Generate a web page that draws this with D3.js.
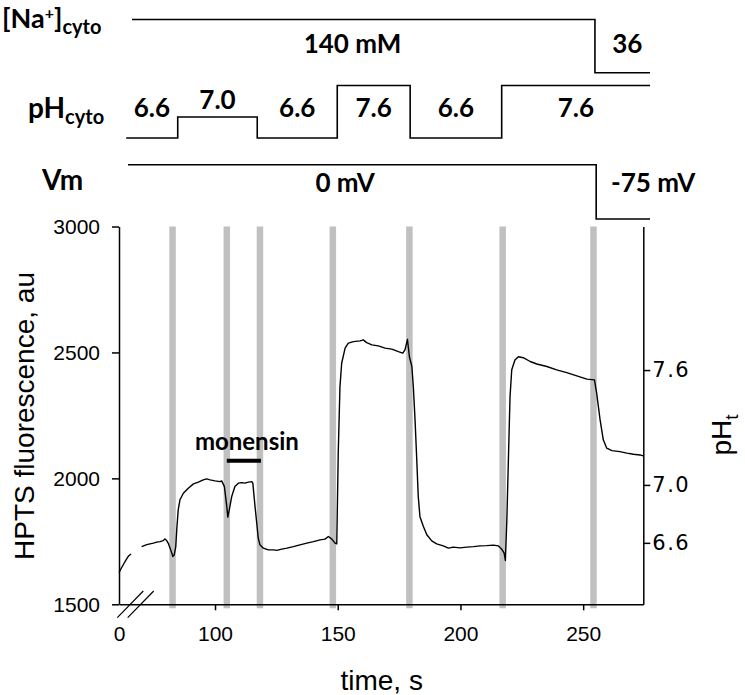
<!DOCTYPE html>
<html><head><meta charset="utf-8">
<script src="https://cdn.jsdelivr.net/npm/d3@7"></script>
<style>body{margin:0;background:#fff} svg{display:block}</style>
</head><body><svg id="c" width="745" height="695"></svg>
<script>
// ---------- data ----------
const earlyTime  = [0, 1, 2, 3, 4, 5];
const earlyFluor = [1626, 1644, 1661, 1677, 1692, 1700];

const traceTime = [70.1,72.2,73.5,74.9,76.2,77.6,78.9,79.6,80.3,80.9,81.7,82.4,82.8,83.4,84.0,84.4,85.0,85.7,87.1,89.1,91.2,93.2,95.2,96.6,98.0,100,102.0,102.7,103.8,104.8,105.2,105.8,106.8,108.1,109.5,110.9,112.2,113.6,115.0,115.4,116.3,117.0,117.6,118.3,119.7,121.7,123.8,125.1,127.2,129.3,131.9,134.6,137.4,140.1,142.8,144.8,146.2,147.6,148.9,149.6,150.2,150.9,151.6,153.0,154.3,156.4,159.1,160.4,161.8,163.9,166.5,169.3,172.0,174.7,176.5,177.4,178.4,179.2,180.2,180.8,181.5,182.2,182.8,183.5,184.9,186.3,188.3,190.3,193.0,195.1,197.1,199.8,202.6,205.3,208.0,210.7,213.4,215.4,216.8,217.8,218.3,218.9,219.6,220.2,220.9,222.2,223.6,225.6,228.4,231.1,235.2,239.2,243.3,247.4,251.5,254.6,255.5,256.9,258.2,259.6,261.7,265.0,267.8,270.5,273.2,274.5];
const traceFluor = [1729,1737,1740,1743,1747,1749,1753,1759,1753,1743,1723,1703,1690,1697,1729,1796,1875,1915,1941,1961,1978,1985,1994,1998,1994,1990,1987,1990,1968,1888,1846,1875,1928,1968,1981,1983,1981,1985,1987,1981,1888,1822,1763,1736,1723,1716,1716,1714,1719,1723,1729,1736,1743,1749,1756,1759,1769,1759,1743,1740,2100,2364,2457,2517,2537,2543,2546,2550,2539,2530,2526,2517,2513,2503,2497,2510,2552,2483,2444,2364,2232,2073,1928,1848,1809,1776,1752,1740,1732,1723,1727,1724,1727,1729,1732,1733,1735,1732,1719,1703,1674,1835,2100,2325,2431,2470,2483,2479,2464,2454,2444,2431,2420,2407,2394,2391,2338,2232,2153,2120,2110,2106,2100,2096,2093,2089];

const bandTimes = [82.7, 104.8, 118.3, 148.0, 179.2, 217.2, 254.2];
const xTicks = [0, 100, 150, 200, 250];
const yTicks = [1500, 2000, 2500, 3000];
const phTickLabels = ["7.6", "7.0", "6.6"];
const phTickFluor  = [2430, 1974, 1744];
const monensinTimes = [104.8, 118.7];

const naTimes  = [11.25, 254.8, 277.25];
const naValues = [140, 36];
const naLabels = ["140 mM", "36"];
const naLabelTimes = [156, 268];

const phTimes  = [3, 84.8, 117.2, 149.8, 179.5, 216.8, 277.25];
const phValues = [6.6, 7.0, 6.6, 7.6, 6.6, 7.6];

const vmTimes  = [3.75, 255.3, 277.25];
const vmValues = [0, -75];
const vmLabels = ["0 mV", "-75 mV"];
const vmLabelTimes = [153, 278.5];

// ---------- layout ----------
const svg = d3.select("#c");
const L = 119, R = 643.3, T = 226.5, B = 604.3;
// broken time axis: 0–5 s shown compressed, break, then linear from 70 s
const x = d3.scaleLinear().domain([0, 5, 70, 274.5]).range([L, 131, 141.4, R]);
const y = d3.scaleLinear().domain([1500, 3000]).range([B, T]);
const yNa = d3.scaleLinear().domain([36, 140]).range([72.7, 19.5]);
const yPh = d3.scaleLinear().domain([6.6, 7.6]).range([138, 85.5]);
const yVm = d3.scaleLinear().domain([-75, 0]).range([219, 164.7]);

const sans = "'Liberation Sans', Arial, sans-serif";
const bold = "Lato, 'Noto Sans', sans-serif";

// grey bands
svg.append("g").selectAll("rect").data(bandTimes).join("rect")
  .attr("x", d => x(d) - 3.25).attr("width", 6.5)
  .attr("y", T).attr("height", B - T + 4)
  .attr("fill", "#c0c0c0");

// trace
const line = d3.line().x(d => x(d[0])).y(d => y(d[1]));
const early = earlyTime.map((t, i) => [t, earlyFluor[i]]);
const main = traceTime.map((t, i) => [t, traceFluor[i]]);
[early, main].forEach(seg => svg.append("path").datum(seg)
  .attr("d", line).attr("fill", "none").attr("stroke", "#000")
  .attr("stroke-width", 1.4).attr("stroke-linejoin", "round"));

// axes
const gx = svg.append("g").attr("transform", `translate(0,${B})`)
  .call(d3.axisBottom(x).tickValues(xTicks).tickFormat(d3.format("d"))
    .tickSize(6).tickSizeOuter(0).tickPadding(16));
gx.selectAll(".tick").filter(d => d === 0).select("line").remove();
const gy = svg.append("g").attr("transform", `translate(${L},0)`)
  .call(d3.axisLeft(y).tickValues(yTicks).tickFormat(d3.format("d"))
    .tickSize(7).tickSizeOuter(0).tickPadding(12));
const gr = svg.append("g").attr("transform", `translate(${R},0)`)
  .call(d3.axisRight(y).tickValues(phTickFluor)
    .tickFormat((d, i) => phTickLabels[i]).tickSize(7).tickSizeOuter(0).tickPadding(2));
[gx, gy, gr].forEach(g => {
  g.selectAll("path,line").attr("stroke", "#000").attr("stroke-width", 1.5);
  g.selectAll("text").attr("fill", "#000").attr("font-family", sans).attr("font-size", 21);
});
gr.selectAll("text").attr("font-family", "'DejaVu Sans', sans-serif").attr("font-size", 21)
  .attr("letter-spacing", 1.5);

// axis break marks
[5, 70].forEach(t => {
  const cx = x(t) - 0.7;
  svg.append("line").attr("x1", cx - 13).attr("y1", B + 13.3)
    .attr("x2", cx + 13).attr("y2", B - 13.3)
    .attr("stroke", "#000").attr("stroke-width", 1.2);
});

// axis titles
svg.append("text").attr("transform", `translate(34,416) rotate(-90)`)
  .attr("text-anchor", "middle").attr("font-family", sans).attr("font-size", 28)
  .text("HPTS fluorescence, au");
svg.append("text").attr("x", 381.7).attr("y", 690)
  .attr("text-anchor", "middle").attr("font-family", sans).attr("font-size", 28)
  .text("time, s");
const pht = svg.append("text").attr("transform", `translate(731,435) rotate(-90)`)
  .attr("text-anchor", "middle").attr("font-family", sans).attr("font-size", 28);
pht.append("tspan").text("pH");
pht.append("tspan").attr("dy", 7).attr("font-size", 19).text("t");

// monensin
svg.append("line").attr("x1", x(monensinTimes[0])).attr("x2", x(monensinTimes[1]))
  .attr("y1", y(2070)).attr("y2", y(2070)).attr("stroke", "#000").attr("stroke-width", 4);
svg.append("text").attr("x", (x(monensinTimes[0]) + x(monensinTimes[1])) / 2 + 3)
  .attr("y", y(2070) - 11).attr("text-anchor", "middle")
  .attr("font-family", bold).attr("font-weight", 700).attr("font-size", 24).text("monensin");

// ---------- protocol ----------
const step = (times, vals, ys) => d3.line().curve(d3.curveStepAfter)
  .x(d => x(d[0])).y(d => ys(d[1]))(
    vals.map((v, i) => [times[i], v]).concat([[times[times.length - 1], vals[vals.length - 1]]]));
[[naTimes, naValues, yNa], [phTimes, phValues, yPh], [vmTimes, vmValues, yVm]].forEach(([t, v, s]) =>
  svg.append("path").attr("d", step(t, v, s)).attr("fill", "none")
    .attr("stroke", "#000").attr("stroke-width", 1.6));

const lab = (xx, yy, txt) => svg.append("text").attr("x", xx).attr("y", yy)
  .attr("text-anchor", "middle").attr("font-family", bold).attr("font-weight", 700)
  .attr("font-size", 26).text(txt);
naLabels.forEach((s, i) => lab(x(naLabelTimes[i]), 52.7, s));
phValues.forEach((v, i) => {
  const xm = (x(phTimes[i]) + x(phTimes[i + 1])) / 2;
  lab(xm, v === 7.0 ? yPh(v) - 8.5 : yPh(6.6) - 20.7, d3.format(".1f")(v));
});
vmLabels.forEach((s, i) => lab(x(vmLabelTimes[i]), 192, s));

// row titles
const na = svg.append("text").attr("x", 2).attr("y", 28)
  .attr("font-family", bold).attr("font-weight", 700).attr("font-size", 27);
na.append("tspan").text("[Na");
na.append("tspan").attr("dy", -9).attr("font-size", 16).text("+");
na.append("tspan").attr("dy", 9).text("]");
na.append("tspan").attr("dy", 6).attr("font-size", 20).text("cyto");
const ph = svg.append("text").attr("x", 28).attr("y", 118.3)
  .attr("font-family", bold).attr("font-weight", 700).attr("font-size", 28);
ph.append("tspan").text("pH");
ph.append("tspan").attr("dy", 6).attr("font-size", 20).text("cyto");
svg.append("text").attr("x", 42).attr("y", 190)
  .attr("font-family", bold).attr("font-weight", 700).attr("font-size", 28).text("Vm");
</script>
</body></html>
